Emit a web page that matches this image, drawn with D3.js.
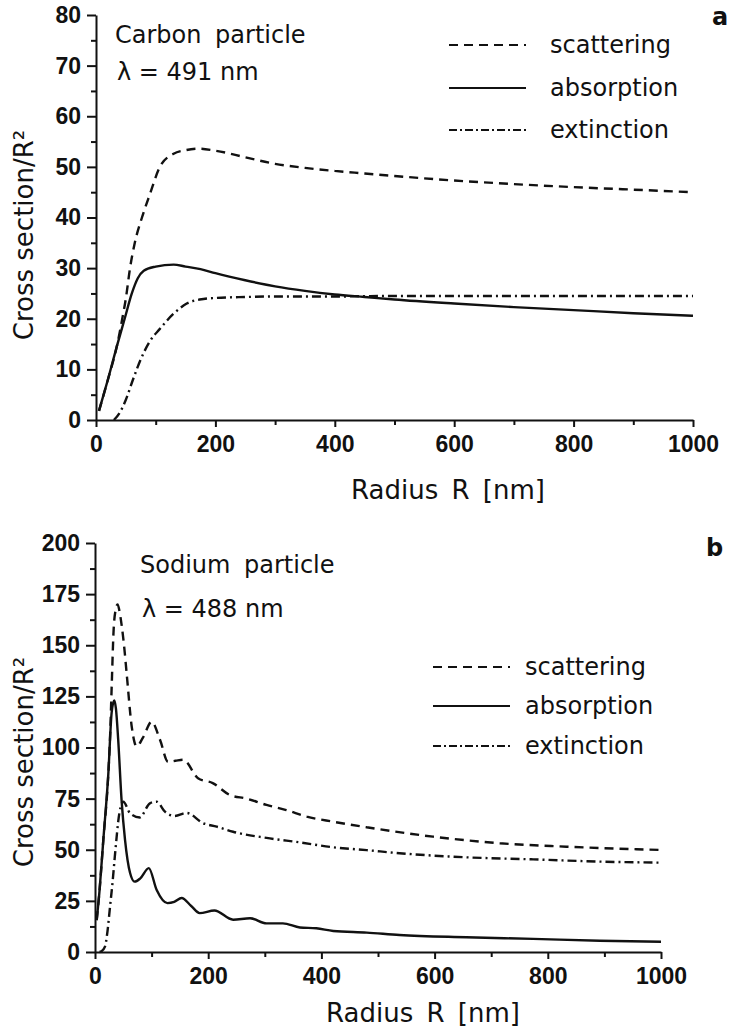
<!DOCTYPE html>
<html>
<head>
<meta charset="utf-8">
<script src="https://cdn.jsdelivr.net/npm/d3@7"></script>
<style>
  body { margin: 0; background: #fff; }
  svg { display: block; }
  .lbl { font-family: "DejaVu Sans", sans-serif; fill: #111; }
</style>
</head>
<body>
<div id="chart"></div>
<script>
// ---- data: [radius nm, cross section / R^2] ----
const carbonScattering = [[5,1.8],[20,8],[35,14.6],[44,20],[50,24],[57,30],[65,35],[77,40],[90,44.5],
  [107,50],[130,52.6],[150,53.3],[172,53.6],[200,53.2],[250,51.9],[300,50.6],[350,49.8],[400,49.2],[450,48.7],
  [500,48.2],[600,47.3],[700,46.6],[800,46],[900,45.5],[1000,45]];
const carbonAbsorption = [[5,1.8],[20,8],[35,14.6],[48,20],[60,25],[70,28],[80,29.5],[100,30.3],[130,30.7],
  [150,30.3],[175,29.8],[200,29],[250,27.6],[300,26.4],[350,25.5],[400,24.8],[450,24.3],[500,23.8],[600,23],
  [700,22.3],[800,21.7],[900,21.1],[1000,20.6]];
const carbonExtinction = [[30,0],[40,1.5],[50,4],[62,8],[75,12],[90,15.5],[107,18],[130,21],[152,23],[180,23.9],
  [200,24.1],[250,24.3],[300,24.4],[400,24.4],[500,24.5],[600,24.5],[800,24.5],[1000,24.5]];

const sodiumScattering = [[3,15.6],[8,30],[14.7,54.8],[23.5,87],[27,108],[29.5,130],[33,158],[37,168],[40,170],[43,167],
  [47,160],[52,148],[56,136],[65,110],[73.5,100.5],[85,105],[100,112.6],[115,103.7],[129,93],[142,93.5],[156,94],
  [182,85],[208,82.6],[238,76.8],[268,75],[303,71.9],[338,69.4],[374,66.2],[421,63.7],[480,61],[597,56.4],
  [715,53.2],[833,51.5],[1000,49.9]];
const sodiumAbsorption = [[3,15.6],[8,30],[14.7,54.8],[23.5,87],[29.4,117],[34,123],[37,119],[41,103.7],[47,74],
  [53,55],[62,38.6],[70,34.4],[80,36],[95,41],[109,30.3],[128,23.9],[140,24.5],[153,26.4],[170,22.5],[185,19],
  [211,20.3],[244,15.8],[274,16.5],[303,14],[332,14],[362,12],[391,11.6],[421,10.3],[480,9.5],[538,8.3],
  [656,7.2],[774,6.4],[892,5.5],[1000,5]];
const sodiumExtinction = [[8,0],[12,0.5],[17.6,2.6],[22,10],[26.5,22],[31,34],[35,46.6],[43,67.8],[50,73.5],
  [62,67.8],[79,65.8],[97,72.7],[109,73.5],[123.6,68.6],[141,66.5],[162,68],[191,63],[215,61.3],[244,58.8],
  [303,55.8],[362,53.6],[421,51.2],[480,49.8],[538,48.3],[656,46.3],[774,45.3],[892,44.2],[1000,43.7]];

const seriesNames = ["scattering", "absorption", "extinction"];
const dashes = {scattering: "9,6", absorption: null, extinction: "9,4,2,4"};

const panels = [
  {id: "a", material: "Carbon particle", lambda: "λ = 491 nm", yMax: 80,
   yTicks: d3.range(0, 81, 10), yMinor: d3.range(5, 80, 10),
   data: {scattering: carbonScattering, absorption: carbonAbsorption, extinction: carbonExtinction},
   left: 96, right: 693, top: 15, bottom: 420,
   matX: 115, matY: 43, lamY: 80, legX: 449, legTextX: 550, legY: [45, 88, 130],
   titleX: 448, titleY: 499, yTitleY: 235, tagX: 712, tagY: 25},
  {id: "b", material: "Sodium particle", lambda: "λ = 488 nm", yMax: 200,
   yTicks: d3.range(0, 201, 25), yMinor: d3.range(12.5, 200, 25),
   data: {scattering: sodiumScattering, absorption: sodiumAbsorption, extinction: sodiumExtinction},
   left: 95, right: 661, top: 543, bottom: 952,
   matX: 140, matY: 573, lamY: 617, legX: 433, legTextX: 525, legY: [667, 706, 746],
   titleX: 423, titleY: 1022, yTitleY: 762, tagX: 706, tagY: 556}
];

const xTicks = d3.range(0, 1001, 200);
const xMinor = d3.range(100, 1000, 200);

const width = 738, height = 1030;
const svg = d3.select("#chart").append("svg")
    .attr("width", width)
    .attr("height", height);

panels.forEach(function(p) {
    const x = d3.scaleLinear().domain([0, 1000]).range([p.left, p.right]);
    const y = d3.scaleLinear().domain([0, p.yMax]).range([p.bottom, p.top]);
    const g = svg.append("g");

    // axes
    g.append("g")
        .attr("transform", "translate(0," + p.bottom + ")")
        .call(d3.axisBottom(x).tickValues(xTicks).tickSize(7).tickSizeOuter(0).tickPadding(9).tickFormat(d3.format("d")));
    g.append("g")
        .attr("transform", "translate(0," + p.bottom + ")")
        .call(d3.axisBottom(x).tickValues(xMinor).tickSize(5).tickFormat(""))
        .select(".domain").remove();
    g.append("g")
        .attr("transform", "translate(" + p.left + ",0)")
        .call(d3.axisLeft(y).tickValues(p.yTicks).tickSize(9).tickSizeOuter(0).tickPadding(6).tickFormat(d3.format("d")));
    g.append("g")
        .attr("transform", "translate(" + p.left + ",0)")
        .call(d3.axisLeft(y).tickValues(p.yMinor).tickSize(5).tickFormat(""))
        .select(".domain").remove();
    g.selectAll(".domain, .tick line").attr("stroke", "#111").attr("stroke-width", 2);
    g.selectAll(".tick text")
        .attr("fill", "#111")
        .attr("font-family", "'Liberation Sans', Arial, sans-serif")
        .attr("font-weight", "bold")
        .attr("font-size", 23);

    // curves
    const line = d3.line()
        .x(function(d) { return x(d[0]); })
        .y(function(d) { return y(d[1]); })
        .curve(d3.curveMonotoneX);

    seriesNames.forEach(function(name) {
        g.append("path")
            .datum(p.data[name])
            .attr("d", line)
            .attr("fill", "none")
            .attr("stroke", "#111")
            .attr("stroke-width", 2.4)
            .attr("stroke-dasharray", dashes[name]);
    });

    // annotations
    g.append("text").attr("class", "lbl").attr("x", p.matX).attr("y", p.matY)
        .style("font-size", "24px").attr("word-spacing", 6).text(p.material);
    g.append("text").attr("class", "lbl").attr("x", p.matX + 2).attr("y", p.lamY)
        .style("font-size", "24px").text(p.lambda);

    // legend
    seriesNames.forEach(function(name, i) {
        g.append("line")
            .attr("x1", p.legX).attr("x2", p.legX + 77)
            .attr("y1", p.legY[i]).attr("y2", p.legY[i])
            .attr("stroke", "#111").attr("stroke-width", 2)
            .attr("stroke-dasharray", name == "extinction" ? "8,3,2,3" : dashes[name]);
        g.append("text").attr("class", "lbl")
            .attr("x", p.legTextX).attr("y", p.legY[i] + 8)
            .style("font-size", "24px").text(name);
    });

    // axis titles
    g.append("text").attr("class", "lbl")
        .attr("x", p.titleX).attr("y", p.titleY)
        .attr("text-anchor", "middle").attr("word-spacing", 5)
        .style("font-size", "26px").text("Radius R [nm]");
    g.append("text").attr("class", "lbl")
        .attr("transform", "translate(33," + p.yTitleY + ") rotate(-90)")
        .attr("text-anchor", "middle")
        .style("font-size", "26px").text("Cross section/R²");

    // panel tag
    g.append("text").attr("class", "lbl")
        .attr("x", p.tagX).attr("y", p.tagY)
        .style("font-size", "24px").style("font-weight", "bold").text(p.id);
});
</script>
</body>
</html>
